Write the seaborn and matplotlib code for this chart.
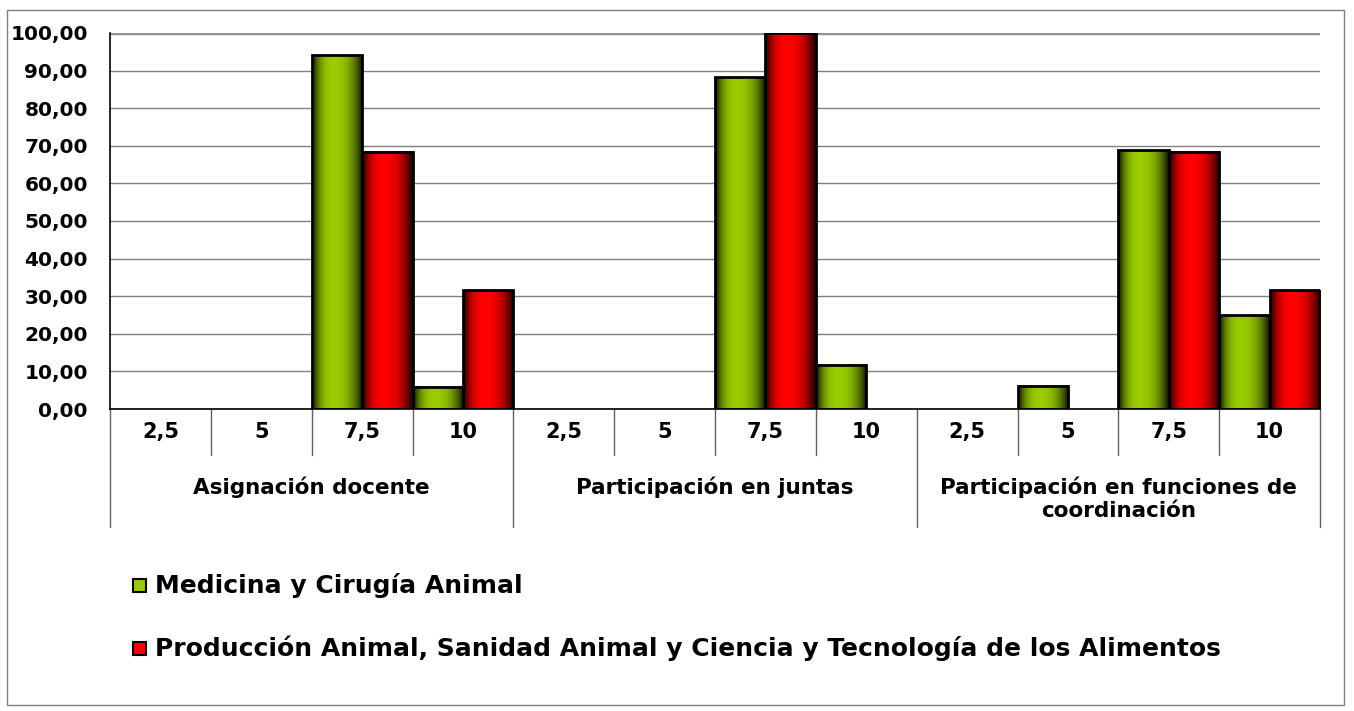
import numpy as np
import pandas as pd
import matplotlib
matplotlib.use("Agg")
import matplotlib.pyplot as plt
import seaborn as sns
from matplotlib.patches import Rectangle
from matplotlib.ticker import FuncFormatter
from matplotlib.colors import to_rgb

# DATA
groups = ["Asignación docente", "Participación en juntas",
          "Participación en funciones de\ncoordinación"]
scores = ["2,5", "5", "7,5", "10"]
series = ["Medicina y Cirugía Animal",
          "Producción Animal, Sanidad Animal y Ciencia y Tecnología de los Alimentos"]
medicina = [0, 0, 94.12, 5.88, 0, 0, 88.24, 11.76, 0, 6.25, 68.75, 25.00]
produccion = [0, 0, 68.42, 31.58, 0, 0, 100.00, 0, 0, 0, 68.42, 31.58]
colors = ["#99CC00", "#FF0000"]

cats = [f"{g}|{s}" for g in groups for s in scores]
df = pd.DataFrame({
    "cat": cats * 2,
    "value": medicina + produccion,
    "serie": [series[0]] * len(cats) + [series[1]] * len(cats),
})

sns.set_style("white")
plt.rcParams["font.family"] = ["DejaVu Sans"]
plt.rcParams["text.color"] = "black"
plt.rcParams["ytick.color"] = "black"
plt.rcParams["xtick.color"] = "black"

W, H = 1354, 711
fig = plt.figure(figsize=(W / 100, H / 100), dpi=100)
ax = fig.add_axes([110 / W, (H - 409) / H, 1210 / W, 376 / H])

sns.barplot(data=df, x="cat", y="value", hue="serie", order=cats,
            hue_order=series, palette=colors, saturation=1, width=1.0,
            gap=0, legend=False, ax=ax)


def shade(color, n=80):
    t = np.linspace(0, 1, n)
    c = 0.42
    u = np.where(t < c, (c - t) / c, (t - c) / (1 - c))
    b = 0.08 + 0.92 * (1 - u ** 2.4)
    return (np.array(to_rgb(color))[None, :] * b[:, None])[None, :, :]


# gradient fill for each bar
for p in list(ax.patches):
    h = p.get_height()
    if h <= 0:
        p.set_visible(False)
        continue
    x0, w = p.get_x(), p.get_width()
    ax.imshow(shade(p.get_facecolor()), extent=[x0, x0 + w, 0, h],
              aspect="auto", interpolation="bilinear", zorder=2)
    p.set_facecolor("none")
    p.set_edgecolor("black")
    p.set_linewidth(2)
    p.set_zorder(3)

ax.set_xlim(-0.5, len(cats) - 0.5)
ax.set_ylim(0, 100)
ax.set_yticks(range(0, 101, 10))
ax.yaxis.set_major_formatter(FuncFormatter(lambda v, _: f"{v:.2f}".replace(".", ",")))
ax.yaxis.grid(True, color="#808080", lw=1)
ax.set_axisbelow(True)
ax.tick_params(axis="y", direction="out", length=6, width=1, color="black",
               labelsize=14.5, pad=10)
for lab in ax.get_yticklabels():
    lab.set_fontweight("bold")
ax.set_xticks([])
ax.set_xlabel("")
ax.set_ylabel("")
for s in ["top", "right"]:
    ax.spines[s].set_visible(False)
for s in ["left", "bottom"]:
    ax.spines[s].set_color("black")
    ax.spines[s].set_linewidth(1.2)
ax.plot([-0.5, len(cats) - 0.5], [100, 100], color="#909090", lw=2.5, zorder=1)

# multi level x labels
trans = ax.get_xaxis_transform()
for i, cat in enumerate(cats):
    ax.text(i, -23 / 376, cat.split("|")[1], transform=trans, ha="center",
            va="center", fontsize=15, fontweight="bold")
for k in range(len(cats) + 1):
    ybot = -118 / 376 if k % 4 == 0 else -46 / 376
    ax.plot([k - 0.5, k - 0.5], [0, ybot], transform=trans, color="#606060",
            lw=1, clip_on=False)
for g, name in enumerate(groups):
    ax.text(4 * g + 1.5, -67 / 376, name, transform=trans, ha="center",
            va="top", fontsize=15.5, fontweight="bold", linespacing=1.2)

# legend
for j, (name, col) in enumerate(zip(series, colors)):
    yc = [585, 648][j]
    fig.add_artist(Rectangle((133 / W, 1 - (yc + 7) / H), 13 / W, 13 / H,
                             transform=fig.transFigure, fc=col, ec="black", lw=1.5))
    fig.text(155 / W, 1 - yc / H, name, va="center", ha="left", fontsize=18,
             fontweight="bold")

# chart border
fig.add_artist(Rectangle((7 / W, 6 / H), 1337 / W, 695 / H, transform=fig.transFigure,
                         fill=False, ec="#808080", lw=1))

fig.savefig("out.png", dpi=100)
